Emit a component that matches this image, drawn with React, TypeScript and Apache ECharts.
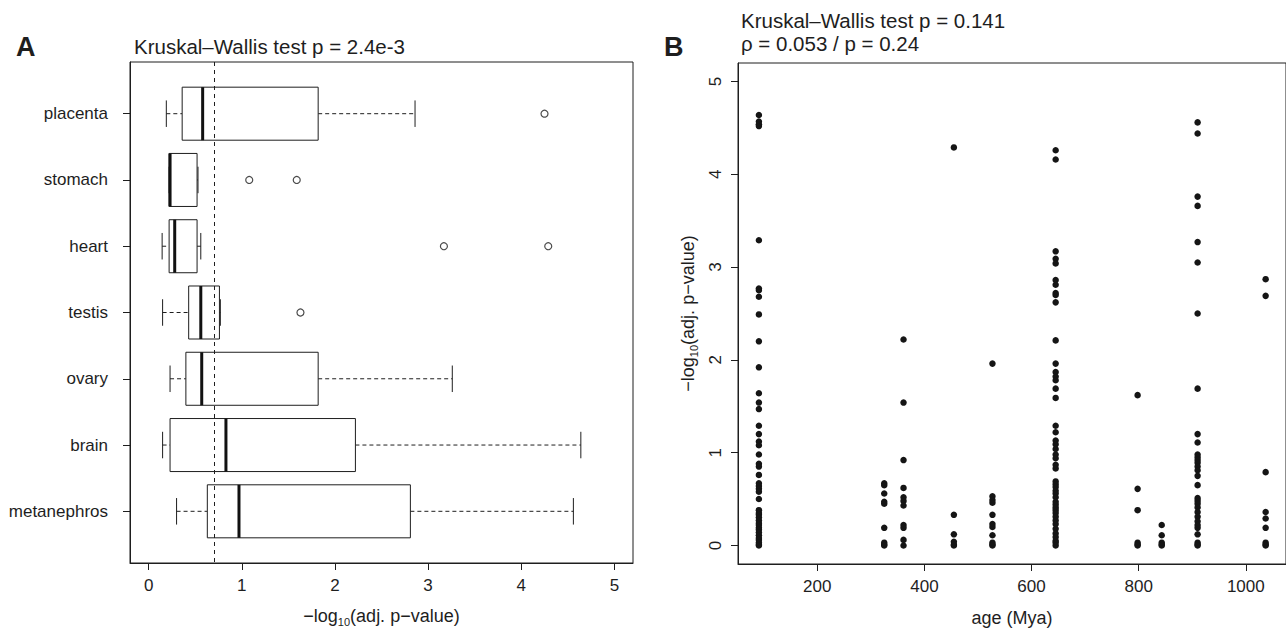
import React, { useEffect, useRef } from "react";
import * as echarts from "echarts";

// ---------- Panel A data (boxplots, -log10 adj. p-value) ----------
const tissues = ["placenta", "stomach", "heart", "testis", "ovary", "brain", "metanephros"];
const boxLow = [0.19, 0.22, 0.145, 0.15, 0.23, 0.15, 0.3];
const boxQ1 = [0.36, 0.22, 0.22, 0.43, 0.4, 0.23, 0.63];
const boxMedian = [0.58, 0.23, 0.28, 0.56, 0.57, 0.83, 0.97];
const boxQ3 = [1.82, 0.52, 0.52, 0.76, 1.82, 2.22, 2.81];
const boxHigh = [2.86, 0.53, 0.56, 0.77, 3.26, 4.64, 4.56];
const outliers = [[4.25], [1.08, 1.59], [3.17, 4.29], [1.63], [], [], []];
const threshold = 0.699; // -log10(0.2)
const xTicksA = [0, 1, 2, 3, 4, 5];

// ---------- Panel B data (scatter vs age) ----------
const ages = [91, 325, 361, 455, 527, 645, 798, 843, 910, 1037];
const vals91 = [4.64, 4.57, 4.54, 4.52, 3.29, 2.77, 2.75, 2.68, 2.49, 2.2, 1.92, 1.64, 1.54, 1.47, 1.29, 1.2, 1.12, 1.08, 0.98, 0.88, 0.85, 0.76, 0.67, 0.64, 0.61, 0.58, 0.5, 0.38, 0.35, 0.33, 0.3, 0.27, 0.24, 0.22, 0.19, 0.17, 0.14, 0.11, 0.08, 0.06, 0.03, 0.01, 0];
const vals325 = [0.67, 0.65, 0.56, 0.47, 0.45, 0.19, 0.03, 0.01, 0];
const vals361 = [2.22, 1.54, 0.92, 0.62, 0.52, 0.48, 0.43, 0.22, 0.19, 0.06, 0];
const vals455 = [4.29, 0.33, 0.12, 0.04, 0.01, 0];
const vals527 = [1.96, 0.53, 0.49, 0.46, 0.33, 0.23, 0.2, 0.11, 0.03, 0.01, 0];
const vals645 = [4.26, 4.16, 3.17, 3.09, 3.04, 2.86, 2.81, 2.72, 2.7, 2.62, 2.21, 1.96, 1.87, 1.82, 1.78, 1.69, 1.59, 1.29, 1.22, 1.13, 1.09, 1.04, 0.98, 0.94, 0.87, 0.83, 0.69, 0.66, 0.63, 0.59, 0.56, 0.52, 0.47, 0.44, 0.41, 0.38, 0.35, 0.31, 0.27, 0.23, 0.18, 0.13, 0.09, 0.05, 0.03, 0];
const vals798 = [1.62, 0.61, 0.38, 0.03, 0.01, 0];
const vals843 = [0.22, 0.11, 0.03, 0.01, 0];
const vals910 = [4.56, 4.44, 3.76, 3.66, 3.27, 3.05, 2.5, 1.69, 1.2, 1.11, 0.98, 0.95, 0.92, 0.89, 0.85, 0.81, 0.75, 0.65, 0.51, 0.48, 0.45, 0.41, 0.36, 0.31, 0.26, 0.22, 0.19, 0.12, 0.03, 0.01, 0];
const vals1037 = [2.87, 2.69, 0.79, 0.36, 0.29, 0.19, 0.03, 0.01, 0];
const valuesByAge = [vals91, vals325, vals361, vals455, vals527, vals645, vals798, vals843, vals910, vals1037];
const xTicksB = [200, 400, 600, 800, 1000];
const yTicksB = [0, 1, 2, 3, 4, 5];

const INK = "#1e1e1e";
const FONT = "Liberation Sans, Arial, Helvetica, sans-serif";

export default function App() {
  const ref = useRef<HTMLDivElement>(null);

  useEffect(() => {
    if (!ref.current) return;
    const chart = echarts.init(ref.current, null, { renderer: "svg" });

    const boxData = tissues.map((_, i) => [i + 1, boxLow[i], boxQ1[i], boxMedian[i], boxQ3[i], boxHigh[i]]);
    const outlierData: number[][] = [];
    outliers.forEach((arr, i) => arr.forEach((v) => outlierData.push([v, i + 1])));
    const scatterData: number[][] = [];
    ages.forEach((a, i) => valuesByAge[i].forEach((v) => scatterData.push([a, v])));

    const richName = {
      a: { fontSize: 18, lineHeight: 22, color: INK, fontFamily: FONT },
      s: { fontSize: 11, lineHeight: 10, padding: [10, 0, 0, 0], verticalAlign: "bottom", color: INK, fontFamily: FONT },
    };
    const logName = "{a|−log}{s|10}{a|(adj. p−value)}";

    const tickStyle = { show: true, length: 7, lineStyle: { color: INK, width: 1 } };
    const labelStyle = { color: INK, fontSize: 17, fontFamily: FONT };
    const titleStyle = { fontSize: 20.5, fontWeight: "normal", color: INK, fontFamily: FONT };

    chart.setOption({
      animation: false,
      backgroundColor: "#ffffff",
      textStyle: { fontFamily: FONT, color: INK },
      title: [
        { text: "Kruskal–Wallis test p = 2.4e-3", left: 129, top: 31, textStyle: titleStyle },
        { text: "Kruskal–Wallis test p = 0.141", left: 736, top: 5, textStyle: titleStyle },
        { text: "ρ = 0.053 / p = 0.24", left: 736, top: 28, textStyle: titleStyle },
        { text: "A", left: 11, top: 28, textStyle: { fontSize: 27, fontWeight: "bold", color: INK, fontFamily: FONT } },
        { text: "B", left: 659, top: 28, textStyle: { fontSize: 27, fontWeight: "bold", color: INK, fontFamily: FONT } },
      ],
      grid: [
        { left: 130, top: 62, width: 503, height: 502, show: true, borderColor: INK, borderWidth: 1, backgroundColor: "transparent" },
        { left: 738, top: 63, width: 551, height: 501, show: true, borderColor: INK, borderWidth: 1, backgroundColor: "transparent" },
      ],
      xAxis: [
        {
          gridIndex: 0, type: "value", min: -0.2, max: 5.2,
          axisLine: { show: true, onZero: false, lineStyle: { color: INK } },
          axisTick: { ...tickStyle, customValues: xTicksA },
          axisLabel: { ...labelStyle, margin: 14, customValues: xTicksA },
          splitLine: { show: false },
          name: logName, nameLocation: "middle", nameGap: 42,
          nameTextStyle: { rich: richName },
        },
        {
          gridIndex: 1, type: "value", min: 52, max: 1075,
          axisLine: { show: true, onZero: false, lineStyle: { color: INK } },
          axisTick: { ...tickStyle, customValues: xTicksB },
          axisLabel: { ...labelStyle, margin: 14, customValues: xTicksB, formatter: (v: number) => String(v) },
          splitLine: { show: false },
          name: "age (Mya)", nameLocation: "middle", nameGap: 45,
          nameTextStyle: { fontSize: 18, color: INK, fontFamily: FONT },
        },
      ],
      yAxis: [
        {
          gridIndex: 0, type: "value", inverse: true, min: 0.22, max: 7.78,
          axisLine: { show: true, onZero: false, lineStyle: { color: INK } },
          axisTick: { ...tickStyle, customValues: [1, 2, 3, 4, 5, 6, 7] },
          axisLabel: {
            ...labelStyle, margin: 22, customValues: [1, 2, 3, 4, 5, 6, 7],
            formatter: (v: number) => tissues[Math.round(v) - 1] ?? "",
          },
          splitLine: { show: false },
        },
        {
          gridIndex: 1, type: "value", min: -0.2, max: 5.2,
          axisLine: { show: true, onZero: false, lineStyle: { color: INK } },
          axisTick: { ...tickStyle, customValues: yTicksB },
          axisLabel: { ...labelStyle, margin: 14, rotate: 90, customValues: yTicksB },
          splitLine: { show: false },
          name: logName, nameLocation: "middle", nameGap: 39, nameRotate: 90,
          nameTextStyle: { rich: richName },
        },
      ],
      series: [
        {
          type: "custom",
          xAxisIndex: 0, yAxisIndex: 0, z: 2,
          data: boxData,
          encode: { x: [1, 2, 3, 4, 5], y: 0 },
          renderItem: (params: any, api: any) => {
            const pos = api.value(0);
            const pLow = api.coord([api.value(1), pos]);
            const pQ1 = api.coord([api.value(2), pos]);
            const pMed = api.coord([api.value(3), pos]);
            const pQ3 = api.coord([api.value(4), pos]);
            const pHigh = api.coord([api.value(5), pos]);
            const h = Math.abs(api.size([0, 0.8])[1]);
            const sh = Math.abs(api.size([0, 0.4])[1]);
            const y = pMed[1];
            const lineS = { stroke: INK, lineWidth: 1 };
            const dashS = { stroke: INK, lineWidth: 1, lineDash: [4, 3] };
            return {
              type: "group",
              children: [
                { type: "line", shape: { x1: pLow[0], y1: y, x2: pQ1[0], y2: y }, style: dashS },
                { type: "line", shape: { x1: pQ3[0], y1: y, x2: pHigh[0], y2: y }, style: dashS },
                { type: "line", shape: { x1: pLow[0], y1: y - sh / 2, x2: pLow[0], y2: y + sh / 2 }, style: lineS },
                { type: "line", shape: { x1: pHigh[0], y1: y - sh / 2, x2: pHigh[0], y2: y + sh / 2 }, style: lineS },
                { type: "rect", shape: { x: pQ1[0], y: y - h / 2, width: pQ3[0] - pQ1[0], height: h }, style: { fill: "#ffffff", stroke: INK, lineWidth: 1 } },
                { type: "line", shape: { x1: pMed[0], y1: y - h / 2, x2: pMed[0], y2: y + h / 2 }, style: { stroke: "#111", lineWidth: 3 } },
              ],
            };
          },
        },
        {
          type: "scatter",
          xAxisIndex: 0, yAxisIndex: 0, z: 5,
          data: outlierData,
          symbol: "circle", symbolSize: 7,
          itemStyle: { color: "#ffffff", borderColor: INK, borderWidth: 1.2 },
          markLine: {
            silent: true, symbol: ["none", "none"], label: { show: false },
            lineStyle: { type: [4, 4], color: INK, width: 1 },
            data: [{ xAxis: threshold }],
          },
        },
        {
          type: "scatter",
          xAxisIndex: 1, yAxisIndex: 1, z: 3,
          data: scatterData,
          symbol: "circle", symbolSize: 6.5,
          itemStyle: { color: "#151515", opacity: 1 },
        },
      ],
    });

    return () => chart.dispose();
  }, []);

  return (
    <div
      ref={ref}
      style={{ position: "absolute", left: 0, top: 0, width: 1286, height: 632, background: "#fff" }}
    />
  );
}
